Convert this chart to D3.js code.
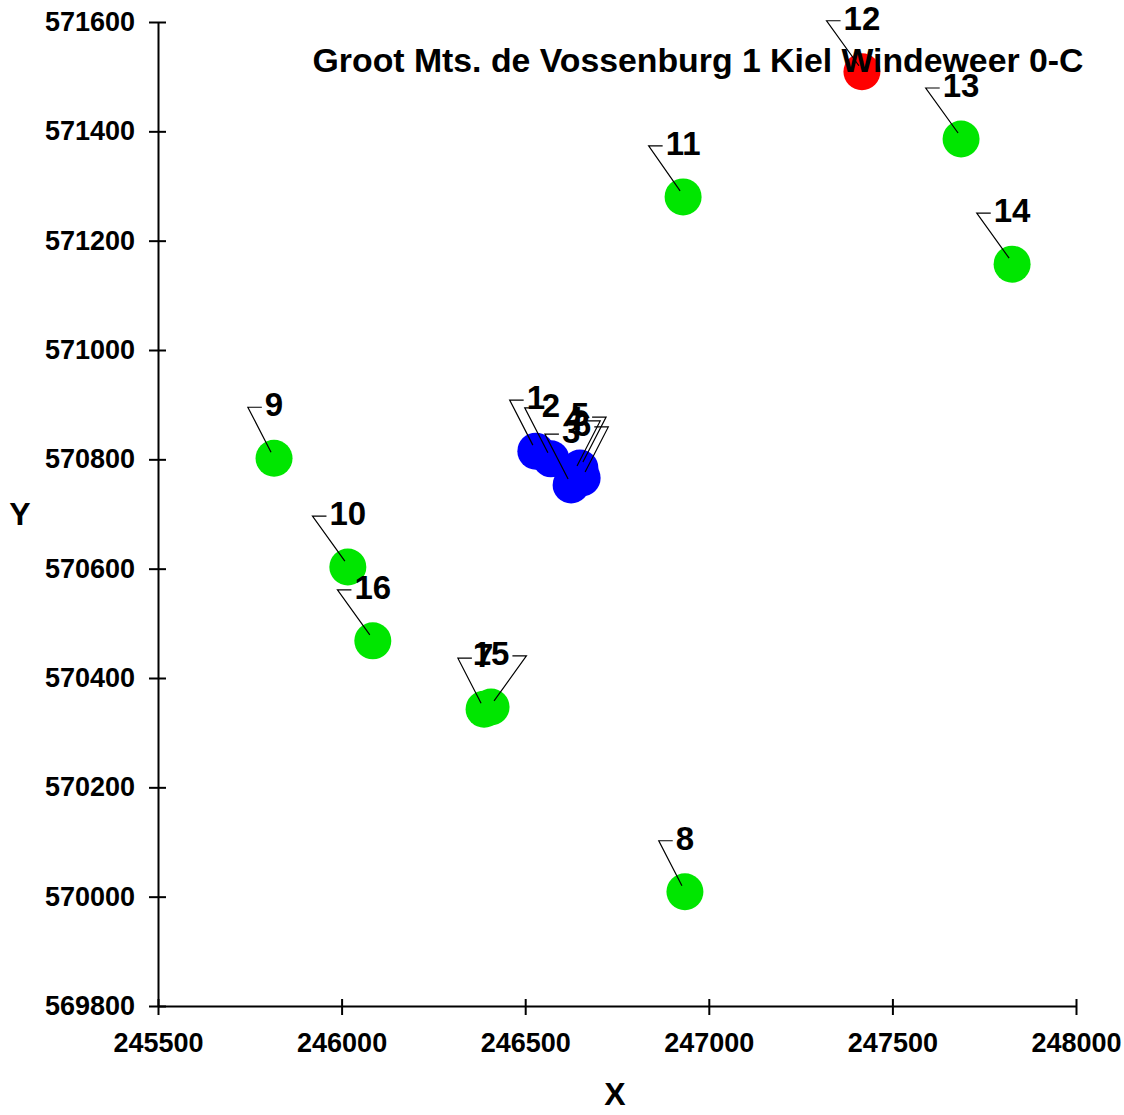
<!DOCTYPE html>
<html>
<head>
<meta charset="utf-8">
<script src="https://cdn.jsdelivr.net/npm/d3@7"></script>
<style>
  body { margin: 0; background: #fff; }
  svg text { font-family: "Liberation Sans", Arial, sans-serif; font-weight: bold; fill: #000; }
</style>
</head>
<body>
<div id="chart"></div>
<script>
// sample points (RD coordinates)
const ids = [1, 2, 3, 4, 5, 6, 7, 8, 9, 10, 11, 12, 13, 14, 15, 16];
const xs = [246529, 246570, 246625, 246633, 246649, 246655, 246388, 246935,
            245816, 246017, 246930, 247417, 247687, 247826, 246407, 246085];
const ys = [570815, 570801, 570753, 570777, 570784, 570766, 570343, 570009,
            570802, 570603, 571280, 571509, 571386, 571157, 570347, 570468];
const kinds = ["core", "core", "core", "core", "core", "core", "edge", "edge",
               "edge", "edge", "edge", "ref", "edge", "edge", "edge", "edge"];

const xTicks = [245500, 246000, 246500, 247000, 247500, 248000];
const yTicks = [569800, 570000, 570200, 570400, 570600, 570800, 571000, 571200, 571400, 571600];

const title = "Groot Mts. de Vossenburg 1 Kiel Windeweer 0-C";
// labels whose callout bracket sits on the right
const rightSide = [4, 5, 6, 15];

const width = 1124, height = 1115;
const margin = { top: 22, right: 48, bottom: 109, left: 158 };

const color = d3.scaleOrdinal()
  .domain(["core", "edge", "ref"])
  .range(["#0000ff", "#00e600", "#ff0000"]);

const svg = d3.select("#chart")
  .append("svg")
    .attr("width", width)
    .attr("height", height);

const x = d3.scaleLinear()
  .domain([245500, 248000])
  .range([margin.left, width - margin.right]);

const y = d3.scaleLinear()
  .domain([569800, 571600])
  .range([height - margin.bottom, margin.top]);

const xAxis = svg.append("g")
  .attr("transform", `translate(0,${height - margin.bottom})`)
  .call(d3.axisBottom(x).tickValues(xTicks).tickFormat(d3.format("d"))
    .tickSize(9).tickSizeOuter(0).tickPadding(18));

xAxis.selectAll(".tick line").attr("y1", -7);

const yAxis = svg.append("g")
  .attr("transform", `translate(${margin.left},0)`)
  .call(d3.axisLeft(y).tickValues(yTicks).tickFormat(d3.format("d"))
    .tickSize(9).tickSizeOuter(0).tickPadding(14));

yAxis.selectAll(".tick line").attr("x1", 8);

svg.selectAll(".domain, .tick line")
  .attr("stroke", "#000")
  .attr("stroke-width", 2);

svg.selectAll(".tick text")
  .style("font-size", "27px")
  .attr("fill", "#000");

svg.append("text")
  .attr("x", 615)
  .attr("y", 1105)
  .attr("text-anchor", "middle")
  .style("font-size", "32px")
  .text("X");

svg.append("text")
  .attr("x", 20)
  .attr("y", 525)
  .attr("text-anchor", "middle")
  .style("font-size", "32px")
  .text("Y");

const pts = ids.map((id, i) => ({ id, x: xs[i], y: ys[i], kind: kinds[i] }));

svg.append("g")
  .selectAll("circle")
  .data(pts)
  .enter().append("circle")
    .attr("cx", d => x(d.x))
    .attr("cy", d => y(d.y))
    .attr("r", 18.5)
    .attr("fill", d => color(d.kind));

// callouts: label above the point, small bracket beside it, line down to the point
const callouts = svg.append("g");

pts.forEach(d => {
  const px = x(d.x), py = y(d.y);
  const label = callouts.append("text")
    .attr("x", px)
    .attr("y", py - 42)
    .attr("text-anchor", "middle")
    .style("font-size", "33px")
    .text(d.id);
  const w = label.node().getComputedTextLength();
  const right = rightSide.includes(d.id);
  const by = py - 51;
  const inner = right ? px + w / 2 + 3 : px - w / 2 - 3;
  const outer = right ? inner + 14 : inner - 14;
  const tipX = right ? px + 3 : px - 3;
  callouts.append("path")
    .attr("d", `M${inner},${by}H${outer}L${tipX},${py - 6}`)
    .attr("fill", "none")
    .attr("stroke", "#000")
    .attr("stroke-width", 1.2);
});

svg.append("text")
  .attr("x", 698)
  .attr("y", 72)
  .attr("text-anchor", "middle")
  .style("font-size", "33.8px")
  .text(title);
</script>
</body>
</html>
